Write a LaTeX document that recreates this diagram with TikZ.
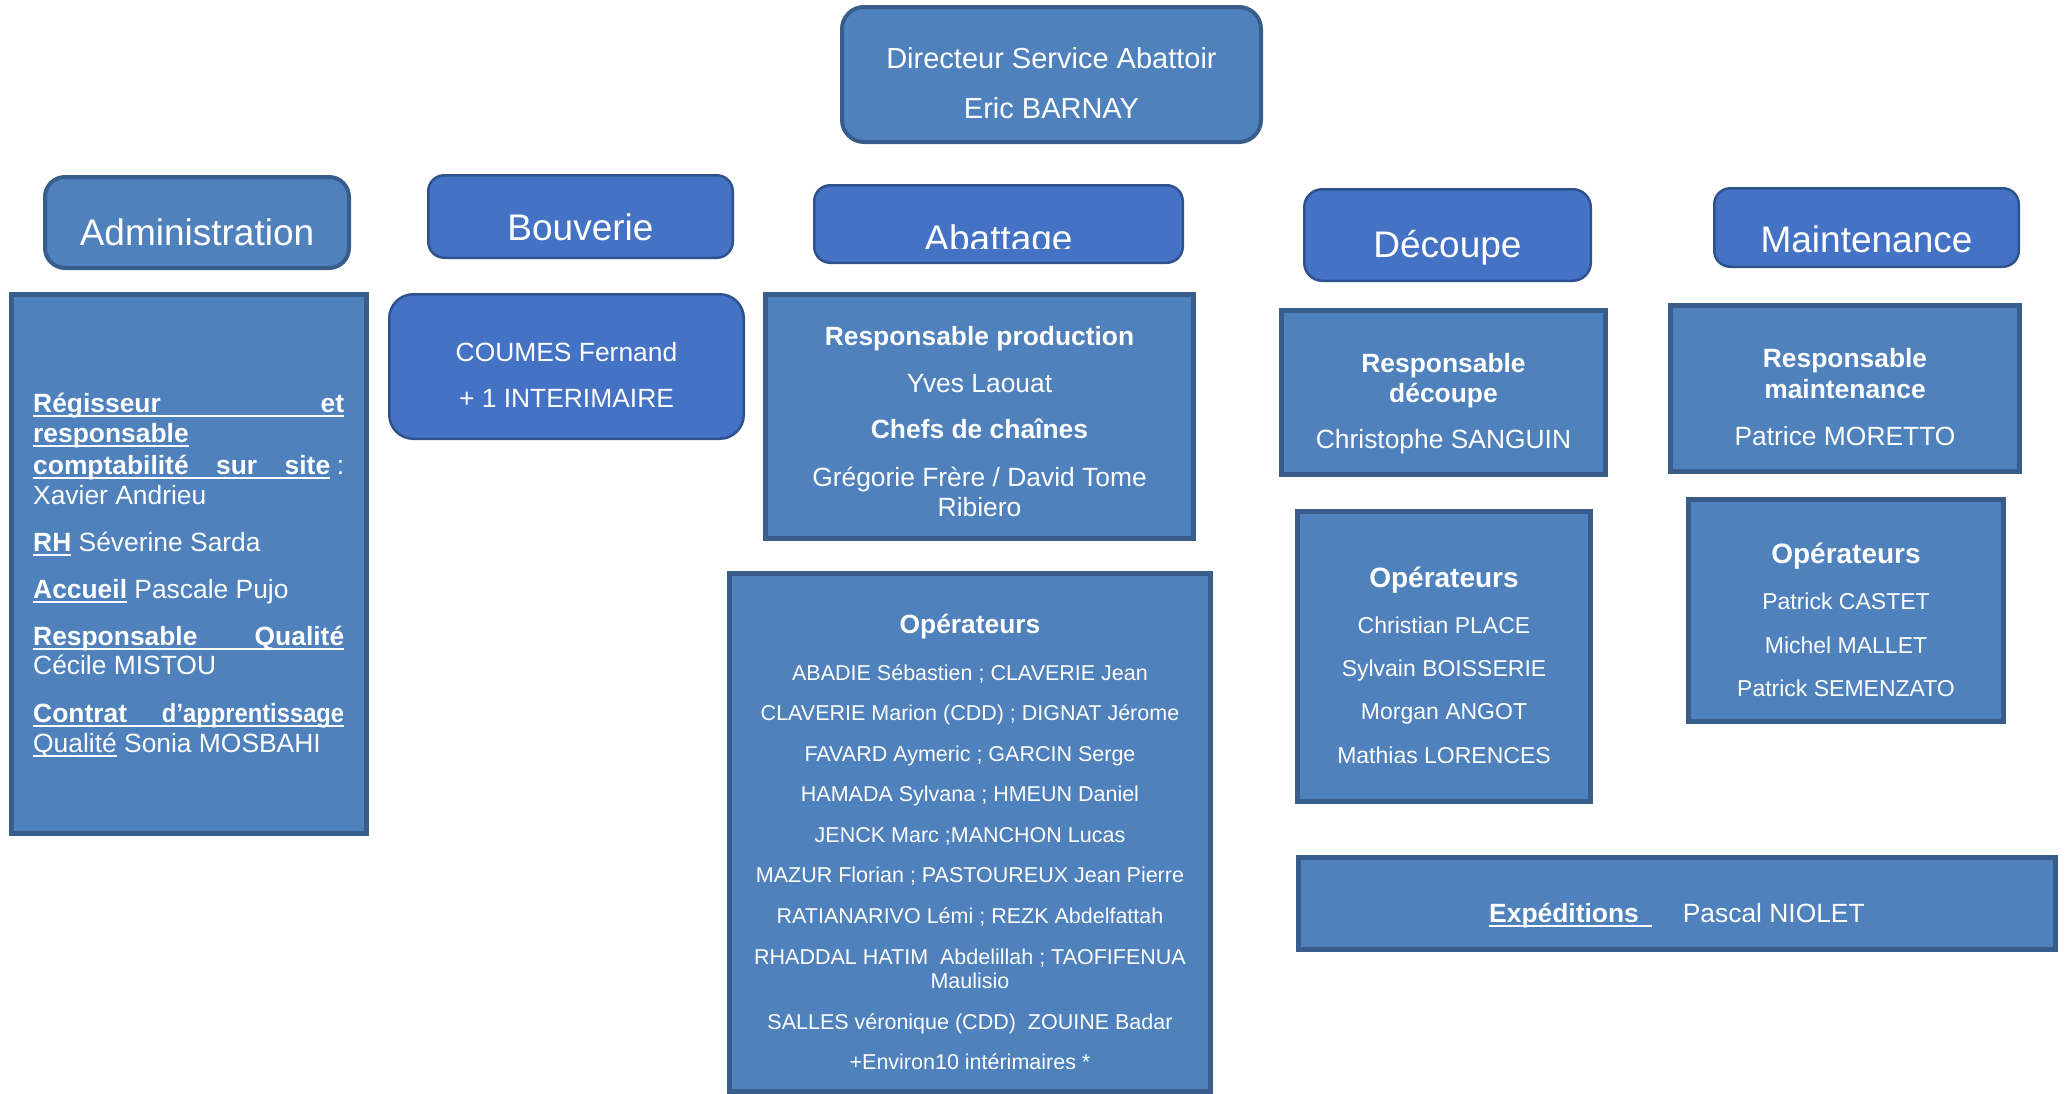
\documentclass[tikz,border=0pt]{standalone}
\usepackage{fontspec}
\setmainfont{Liberation Sans}
\definecolor{hblue}{HTML}{4472C4}
\definecolor{hline}{HTML}{2F528F}
\definecolor{cblue}{HTML}{4F81BD}
\definecolor{cline}{HTML}{385D8A}
\newcommand\myul[1]{\setbox0=\hbox{#1}\rlap{\rule[-5pt]{\wd0}{2.2pt}}\box0\relax}
\newcommand\fsz[1]{\fontsize{#1}{#1}\selectfont}
\tikzset{
 hdrbox/.style={fill=hblue, draw=hline, line width=2.5pt, rounded corners=16pt, inner sep=0pt},
 softbox/.style={fill=cblue, draw=cline, line width=4pt, rounded corners=22pt, inner sep=0pt},
 contbox/.style={fill=cblue, draw=cline, line width=5pt, inner sep=0pt},
 txt/.style={text=white, inner sep=0pt, anchor=base},
 txtl/.style={text=white, inner sep=0pt, anchor=base west},
 fhead/.style={font=\fsz{37}},
 fmain/.style={font=\fsz{26.4}},
 fbold/.style={font=\fsz{26.4}\bfseries},
 fsmall/.style={font=\fsz{21.5}},
 fname/.style={font=\fsz{23}},
 fop/.style={font=\fsz{28}\bfseries},
}
\begin{document}
\begin{tikzpicture}[x=1pt,y=-1pt]
\useasboundingbox (0,0) rectangle (2065,1093);

% ---------- boxes ----------
\node[softbox, minimum width=419pt, minimum height=135pt] (dir) at (1051.5,74.5) {};
\node[softbox, minimum width=304pt, minimum height=91pt, rounded corners=20pt] (admh) at (197,222.5) {};
\node[contbox, minimum width=355pt, minimum height=539pt] (admc) at (189,564) {};
\node[hdrbox, minimum width=304.5pt, minimum height=82.5pt] (bouh) at (580.5,216.5) {};
\node[hdrbox, minimum width=354.5pt, minimum height=144.5pt, rounded corners=24pt] (bouc) at (566.5,366.5) {};
\node[hdrbox, minimum width=368.5pt, minimum height=77.5pt] (abah) at (998.5,224) {};
\node[contbox, minimum width=428pt, minimum height=244pt] (abar) at (979.5,416.5) {};
\node[contbox, minimum width=481pt, minimum height=518pt] (abao) at (970,832) {};
\node[hdrbox, minimum width=286.5pt, minimum height=91.5pt, rounded corners=18pt] (dech) at (1447.5,235) {};
\node[contbox, minimum width=324pt, minimum height=164pt] (decr) at (1443.5,392.5) {};
\node[contbox, minimum width=293pt, minimum height=290pt] (deco) at (1444,656.5) {};
\node[hdrbox, minimum width=304.5pt, minimum height=78.5pt] (maih) at (1866.5,227.5) {};
\node[contbox, minimum width=349pt, minimum height=166pt] (mair) at (1845,388.5) {};
\node[contbox, minimum width=315pt, minimum height=222pt] (maio) at (1846,610.5) {};
\node[contbox, minimum width=757pt, minimum height=92pt] (expb) at (1677,903.5) {};

% ---------- director ----------
\node[txt, font=\fsz{29}] (dir1) at (1051.5,68) {Directeur Service Abattoir};
\node[txt, font=\fsz{29}] (dir2) at (1051.5,118) {Eric BARNAY};

% ---------- headers ----------
\node[txt, fhead] (admt) at (197,245) {Administration};
\node[txt, fhead] (bout) at (580.5,240) {Bouverie};
\begin{scope}
\clip (813,184) rectangle (1184,248);
\node[txt, fhead] (abat) at (998.5,251) {Abattage};
\end{scope}
\node[txt, fhead] (dect) at (1447.5,257) {Découpe};
\node[txt, fhead] (mait) at (1866.5,252) {Maintenance};

% ---------- administration ----------
\node[txtl, fmain] (ad1) at (33,412) {\myul{\hbox to 311pt{\bfseries Régisseur\hfill et}}};
\node[txtl, fmain] (ad2) at (33,442) {\myul{\bfseries responsable}};
\node[txtl, fmain] (ad3) at (33,474) {\hbox to 311pt{\myul{\hbox to 297pt{\bfseries comptabilité\hfill sur\hfill site}}\hfill :}};
\node[txtl, fmain] (ad4) at (33,504) {Xavier Andrieu};
\node[txtl, fmain] (ad5) at (33,551) {\myul{\bfseries RH} Séverine Sarda};
\node[txtl, fmain] (ad6) at (33,598) {\myul{\bfseries Accueil} Pascale Pujo};
\node[txtl, fmain] (ad7) at (33,645) {\myul{\hbox to 311pt{\bfseries Responsable\hfill Qualité}}};
\node[txtl, fmain] (ad8) at (33,674.5) {Cécile MISTOU};
\node[txtl, fmain] (ad9) at (33,722) {\myul{\hbox to 311pt{\bfseries Contrat\hfill\scalebox{0.9}[1]{d’apprentissage}}}};
\node[txtl, fmain] (ad10) at (33,752) {\myul{Qualité} Sonia MOSBAHI};

% ---------- bouverie ----------
\node[txt, fmain] (bo1) at (566.5,361) {COUMES Fernand};
\node[txt, fmain] (bo2) at (566.5,407) {+ 1 INTERIMAIRE};

% ---------- abattage ----------
\node[txt, fbold] (ar1) at (979.5,345) {Responsable production};
\node[txt, fmain] (ar2) at (979.5,392) {Yves Laouat};
\node[txt, fbold] (ar3) at (979.5,438) {Chefs de chaînes};
\node[txt, fmain] (ar4) at (979.5,486) {Grégorie Frère / David Tome};
\node[txt, fmain] (ar5) at (979.5,516) {Ribiero};

\node[txt, fbold] (aot) at (970,633) {Opérateurs};
\foreach \yy/\nm [count=\i] in {
 680/{ABADIE Sébastien ; CLAVERIE Jean},
 720.5/{CLAVERIE Marion (CDD) ; DIGNAT Jérome},
 761/{FAVARD Aymeric ; GARCIN Serge},
 801.5/{HAMADA Sylvana ; HMEUN Daniel},
 842/{JENCK Marc ;MANCHON Lucas},
 882/{MAZUR Florian ; PASTOUREUX Jean Pierre},
 923/{RATIANARIVO Lémi ; REZK Abdelfattah},
 964/{RHADDAL HATIM\ \ Abdelillah ; TAOFIFENUA},
 988/{Maulisio},
 1029/{SALLES véronique (CDD)\ \ ZOUINE Badar},
 1069/{+Environ10 intérimaires *}}
 \node[txt, fsmall] (ao\i) at (970,\yy) {\nm};

% ---------- decoupe ----------
\node[txt, fbold] (dr1) at (1443.5,372) {Responsable};
\node[txt, fbold] (dr2) at (1443.5,402) {découpe};
\node[txt, fmain] (dr3) at (1443.5,448) {Christophe SANGUIN};

\node[txt, fop] (dot) at (1444,587) {Opérateurs};
\foreach \yy/\nm [count=\i] in {633/{Christian PLACE}, 676/{Sylvain BOISSERIE}, 719/{Morgan ANGOT}, 763/{Mathias LORENCES}}
 \node[txt, fname] (do\i) at (1444,\yy) {\nm};

% ---------- maintenance ----------
\node[txt, fbold] (mr1) at (1845,367) {Responsable};
\node[txt, fbold] (mr2) at (1845,398) {maintenance};
\node[txt, fmain] (mr3) at (1845,445) {Patrice MORETTO};

\node[txt, fop] (mot) at (1846,563) {Opérateurs};
\foreach \yy/\nm [count=\i] in {609/{Patrick CASTET}, 653/{Michel MALLET}, 696/{Patrick SEMENZATO}}
 \node[txt, fname] (mo\i) at (1846,\yy) {\nm};

% ---------- expeditions ----------
\node[txtl, fmain] (ext) at (1489,922) {\myul{\bfseries Expéditions\hspace{13pt}}\hspace{31pt}Pascal NIOLET};
\end{tikzpicture}
\end{document}
